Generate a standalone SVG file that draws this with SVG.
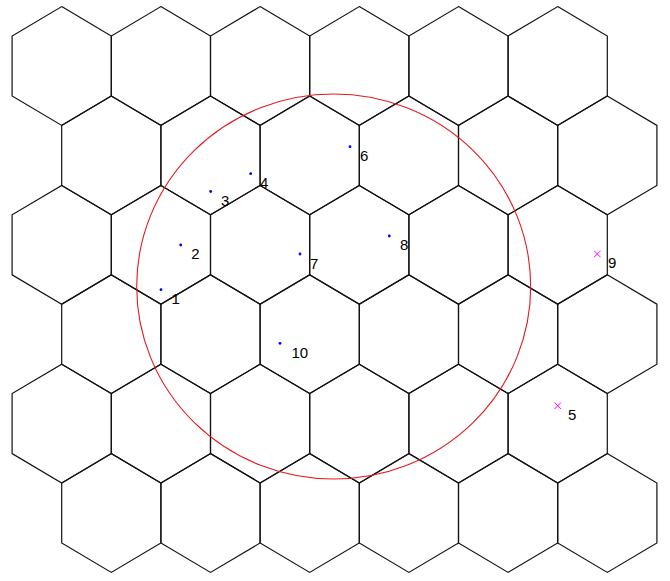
<svg xmlns="http://www.w3.org/2000/svg" xmlns:xlink="http://www.w3.org/1999/xlink" width="670" height="581" viewBox="0 0 670 581">
<style>
.hex{fill:none;stroke:#111;stroke-width:1.2;stroke-linejoin:miter}
.lbl{font-family:"Liberation Sans",Arial,sans-serif;font-size:15px;fill:#000}
.dot{fill:#0000ff}
.cross{stroke:#ff00ff;stroke-width:1;fill:none}
.ring{fill:none;stroke:#e31a1c;stroke-width:1.1}
</style>
<defs>
<polygon id="hx" class="hex" points="0,-59.4 49.6,-30 49.6,30 0,59.4 -49.6,30 -49.6,-30"/>
<path id="xm" class="cross" d="M-3.3,-3.3 L3.3,3.3 M-3.3,3.3 L3.3,-3.3"/>
</defs>
<rect width="670" height="581" fill="#fff"/>
<g id="grid">
<g id="row0">
<use xlink:href="#hx" href="#hx" x="61.7" y="66"/>
<use xlink:href="#hx" href="#hx" x="160.9" y="66"/>
<use xlink:href="#hx" href="#hx" x="260.1" y="66"/>
<use xlink:href="#hx" href="#hx" x="359.3" y="66"/>
<use xlink:href="#hx" href="#hx" x="458.5" y="66"/>
<use xlink:href="#hx" href="#hx" x="557.7" y="66"/>
</g>
<g id="row1">
<use xlink:href="#hx" href="#hx" x="111.3" y="155.4"/>
<use xlink:href="#hx" href="#hx" x="210.5" y="155.4"/>
<use xlink:href="#hx" href="#hx" x="309.7" y="155.4"/>
<use xlink:href="#hx" href="#hx" x="408.9" y="155.4"/>
<use xlink:href="#hx" href="#hx" x="508.1" y="155.4"/>
<use xlink:href="#hx" href="#hx" x="607.3" y="155.4"/>
</g>
<g id="row2">
<use xlink:href="#hx" href="#hx" x="61.7" y="244.8"/>
<use xlink:href="#hx" href="#hx" x="160.9" y="244.8"/>
<use xlink:href="#hx" href="#hx" x="260.1" y="244.8"/>
<use xlink:href="#hx" href="#hx" x="359.3" y="244.8"/>
<use xlink:href="#hx" href="#hx" x="458.5" y="244.8"/>
<use xlink:href="#hx" href="#hx" x="557.7" y="244.8"/>
</g>
<g id="row3">
<use xlink:href="#hx" href="#hx" x="111.3" y="334.2"/>
<use xlink:href="#hx" href="#hx" x="210.5" y="334.2"/>
<use xlink:href="#hx" href="#hx" x="309.7" y="334.2"/>
<use xlink:href="#hx" href="#hx" x="408.9" y="334.2"/>
<use xlink:href="#hx" href="#hx" x="508.1" y="334.2"/>
<use xlink:href="#hx" href="#hx" x="607.3" y="334.2"/>
</g>
<g id="row4">
<use xlink:href="#hx" href="#hx" x="61.7" y="423.6"/>
<use xlink:href="#hx" href="#hx" x="160.9" y="423.6"/>
<use xlink:href="#hx" href="#hx" x="260.1" y="423.6"/>
<use xlink:href="#hx" href="#hx" x="359.3" y="423.6"/>
<use xlink:href="#hx" href="#hx" x="458.5" y="423.6"/>
<use xlink:href="#hx" href="#hx" x="557.7" y="423.6"/>
</g>
<g id="row5">
<use xlink:href="#hx" href="#hx" x="111.3" y="513"/>
<use xlink:href="#hx" href="#hx" x="210.5" y="513"/>
<use xlink:href="#hx" href="#hx" x="309.7" y="513"/>
<use xlink:href="#hx" href="#hx" x="408.9" y="513"/>
<use xlink:href="#hx" href="#hx" x="508.1" y="513"/>
<use xlink:href="#hx" href="#hx" x="607.3" y="513"/>
</g>
</g>
<g id="range">
<ellipse class="ring" cx="333.7" cy="286.5" rx="197" ry="192.5"/>
</g>
<g id="points">
<g id="p1"><circle class="dot" cx="161" cy="289.7" r="1.4"/><text class="lbl" x="171.5" y="304.3">1</text></g>
<g id="p2"><circle class="dot" cx="180.7" cy="245" r="1.4"/><text class="lbl" x="191.2" y="259.3">2</text></g>
<g id="p3"><circle class="dot" cx="210.7" cy="191.5" r="1.4"/><text class="lbl" x="221.1" y="205.8">3</text></g>
<g id="p4"><circle class="dot" cx="250.7" cy="173.7" r="1.4"/><text class="lbl" x="260" y="187.8">4</text></g>
<g id="p5"><use xlink:href="#xm" href="#xm" x="557.7" y="405.8"/><text class="lbl" x="568" y="419.6">5</text></g>
<g id="p6"><circle class="dot" cx="350" cy="146.7" r="1.4"/><text class="lbl" x="360" y="161.2">6</text></g>
<g id="p7"><circle class="dot" cx="300" cy="254" r="1.4"/><text class="lbl" x="310" y="268.5">7</text></g>
<g id="p8"><circle class="dot" cx="389.3" cy="236" r="1.4"/><text class="lbl" x="400" y="250.3">8</text></g>
<g id="p9"><use xlink:href="#xm" href="#xm" x="597.3" y="254"/><text class="lbl" x="608" y="268">9</text></g>
<g id="p10"><circle class="dot" cx="280" cy="343.3" r="1.4"/><text class="lbl" x="291.5" y="357.6">10</text></g>
</g>
</svg>
